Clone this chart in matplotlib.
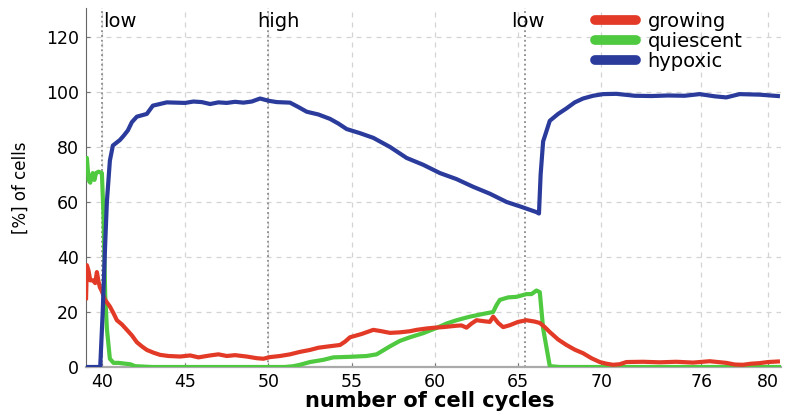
import matplotlib
matplotlib.use("Agg")
import matplotlib.pyplot as plt
from matplotlib.lines import Line2D

plt.rcParams['font.family'] = ['DejaVu Sans']

# values (cycle, percent)
hyp_x = [39.05, 39.9, 40.05, 40.2, 40.3, 40.48, 40.66, 41.08, 41.3, 41.56, 41.8, 42.1,
         42.7, 43.06, 43.9, 45.0, 45.5, 46.0, 46.5, 47.0, 47.5, 48.0, 48.5, 49.0, 49.5,
         50.0, 50.5, 51.3, 51.8, 52.3, 53.0, 53.7, 54.2, 54.7, 55.5, 56.3, 57.3, 58.3,
         59.3, 60.3, 61.3, 62.3, 63.3, 64.3, 65.2, 66.1, 66.25, 66.35, 66.5, 66.9, 67.4,
         67.9, 68.4, 68.9, 69.5, 70.1, 70.9, 72.0, 73.0, 74.0, 75.0, 75.9, 76.8, 77.5,
         78.3, 79.5, 80.6]
hyp_y = [0, 0, 20, 45, 60, 75, 80.5, 82.5, 84, 86, 89, 91,
         92, 95, 96.2, 96, 96.5, 96.3, 95.6, 96.2, 96.0, 96.4, 96.1, 96.5, 97.6,
         96.8, 96.3, 96.1, 94.5, 92.8, 91.8, 90.2, 88.5, 86.5, 85.0, 83.3, 80.0, 76.0,
         73.5, 70.5, 68.3, 65.5, 63.0, 60.0, 58.2, 56.3, 55.8, 70, 82, 89.5, 92,
         94, 96.2, 97.6, 98.6, 99.2, 99.3, 98.6, 98.5, 98.7, 98.6, 99.2, 98.4, 98.0,
         99.2, 99.0, 98.5]

qui_x = [39.05, 39.1, 39.2, 39.3, 39.45, 39.55, 39.65, 39.8, 40.0, 40.1, 40.2, 40.3,
         40.48, 40.7, 41.0, 41.4, 41.7, 42.0, 43, 45, 48, 51.0, 51.5, 51.9, 52.5, 53.3,
         53.9, 54.9, 55.9, 56.5, 57.3, 57.9, 58.5, 59.3, 60.1, 60.7, 61.3, 62.1, 62.9,
         63.5, 63.7, 63.9, 64.4, 64.9, 65.5, 65.8, 66.1, 66.3, 66.5, 66.9, 67.5, 70, 75,
         80.8]
qui_y = [74, 76, 68, 67, 70.5, 68, 70.5, 71, 70.5, 55, 26, 14,
         3, 1.5, 1.5, 1.2, 1.0, 0.3, 0, 0, 0, 0, 0.3, 0.8, 1.8, 2.6,
         3.5, 3.7, 4.0, 4.6, 7.5, 9.5, 10.8, 12.3, 14.2, 15.8, 17.0, 18.3, 19.3,
         20.0, 22.5, 24.4, 25.3, 25.5, 26.5, 26.5, 27.8, 27.2, 14, 0.3, 0, 0, 0,
         0]

gro_x = [39.05, 39.1, 39.2, 39.3, 39.46, 39.6, 39.7, 39.8, 39.88, 40.0, 40.18, 40.3,
         40.48, 40.7, 40.9, 41.2, 41.5, 41.8, 42.1, 42.4, 42.7, 43.1, 43.5, 44.0, 44.7,
         45.3, 45.8, 46.5, 47.0, 47.5, 48.0, 48.7, 49.3, 49.7, 50.1, 50.7, 51.3, 51.9,
         52.5, 53.0, 53.5, 54.3, 54.6, 54.9, 55.6, 56.3, 56.8, 57.3, 57.9, 58.5, 58.9,
         59.5, 60.0, 60.5, 61.3, 61.6, 61.9, 62.2, 62.5, 63.0, 63.3, 63.5, 63.8, 64.1,
         64.5, 65.0, 65.5, 66.0, 66.3, 66.6, 66.9, 67.4, 67.9, 68.4, 68.9, 69.4, 69.9,
         70.3, 70.7, 71.1, 71.5, 72.5, 73.5, 74.5, 75.5, 76.5, 77.5, 78.0, 78.5, 79.0,
         79.5, 80.0, 80.6]
gro_y = [25, 37, 35, 31.5, 31.5, 30.5, 34.5, 31, 29, 27.5, 24.5, 23.5,
         22, 19.5, 17, 15.5, 13.5, 11.5, 9, 7.5, 6.2, 5.2, 4.4, 4.0, 3.8,
         4.2, 3.5, 4.2, 4.6, 4.0, 4.3, 3.8, 3.2, 3.0, 3.6, 4.0, 4.6, 5.5,
         6.2, 7.0, 7.4, 8.0, 9.2, 10.8, 12.0, 13.5, 13.0, 12.4, 12.6, 13.0, 13.5,
         14.0, 14.3, 14.5, 15.0, 15.1, 14.3, 15.8, 17.0, 16.6, 16.4, 18.3, 16.0, 14.5,
         15.2, 16.4, 17.0, 16.5, 16.0, 14.5, 12.7, 10.0, 8.0, 6.3, 5.0, 3.2, 1.8,
         1.2, 0.8, 1.0, 1.8, 1.9, 1.7, 1.9, 1.6, 2.1, 1.5, 0.9, 0.8, 1.2,
         1.4, 1.8, 2.0]

xticks = [40, 45, 50, 55, 60, 65, 70, 76, 80]
yticks = [0, 20, 40, 60, 80, 100, 120]
markers = [40, 50, 65.4]
marker_text = [("low", 40.1, 'left'), ("high", 50.6, 'center'), ("low", 65.6, 'center')]

c_red = '#e23a26'
c_green = '#4fc93f'
c_blue = '#2a3b9c'

fig = plt.figure(figsize=(7.88, 4.13), dpi=100)
ax = fig.add_axes([0.109, 0.1114, 0.882, 0.8692])

ax.plot(qui_x, qui_y, color=c_green, lw=3, zorder=3)
ax.plot(gro_x, gro_y, color=c_red, lw=3, zorder=4)
ax.plot(hyp_x, hyp_y, color=c_blue, lw=3, zorder=5)

for m in markers:
    ax.axvline(m, color='#8a8a8a', ls=':', lw=1.3, zorder=2)
for txt, xp, ha in marker_text:
    ax.text(xp, 125.5, txt, ha=ha, va='center', fontsize=14)

ax.set_xlim(39.04, 80.78)
ax.set_ylim(0, 130.5)
ax.set_xticks(xticks)
ax.set_yticks(yticks)
ax.grid(True, color='#d4d4d4', ls=(0, (4, 4)), lw=0.9, zorder=1)
ax.tick_params(direction='in', length=3, labelsize=12.5, color='#777')
ax.tick_params(axis='y', pad=5)
ax.tick_params(axis='x', pad=4)

for s in ['top', 'right']:
    ax.spines[s].set_visible(False)
ax.spines['left'].set_color('#666')
ax.spines['bottom'].set_color('#aaa')
ax.spines['bottom'].set_linewidth(1.6)

ax.set_xlabel('number of cell cycles', fontsize=15, fontweight='bold')
ax.xaxis.set_label_coords(0.495, -0.066)
ax.set_ylabel('[%] of cells', fontsize=12)
ax.yaxis.set_label_coords(-0.081, 0.5)

handles = [Line2D([], [], color=c, lw=7, solid_capstyle='round') for c in (c_red, c_green, c_blue)]
fig.legend(handles, ['growing', 'quiescent', 'hypoxic'], loc='upper left',
           bbox_to_anchor=(595 / 788, 1 - 12 / 413), frameon=False, fontsize=14,
           handlelength=2.1, handletextpad=0.6, labelspacing=0.05,
           borderpad=0, borderaxespad=0)

fig.savefig('out.png', dpi=100)
